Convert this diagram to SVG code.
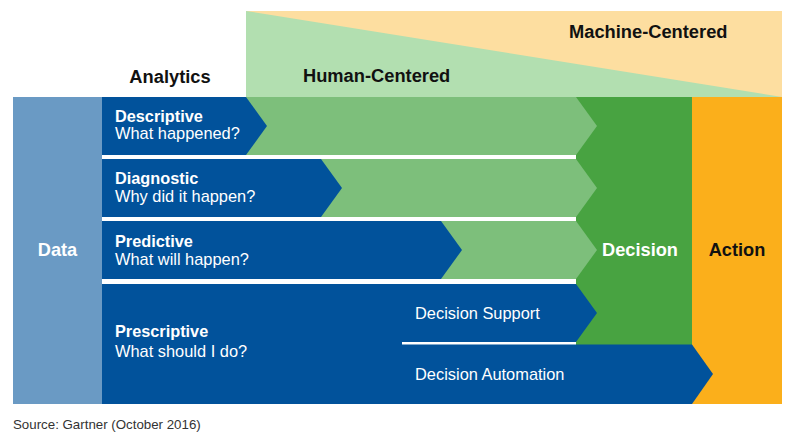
<svg xmlns="http://www.w3.org/2000/svg" width="791" height="442" viewBox="0 0 791 442">
  <style>
    text { font-family: "Liberation Sans", Arial, sans-serif; }
    .hdr { font-size: 18.3px; font-weight: bold; fill: #111; }
    .big { font-size: 18.2px; font-weight: bold; }
    .ttl { font-size: 16.3px; font-weight: bold; fill: #fff; }
    .sub { font-size: 16.4px; fill: #fff; }
    .blue { fill: #01529b; }
    .mid { fill: #7dbf7b; }
    .src { font-size: 13.3px; fill: #333; }
  </style>

  <!-- spectrum band: human- vs machine-centered -->
  <g id="spectrum">
    <rect x="246" y="11" width="536" height="86" fill="#fddea0"/>
    <polygon points="246,11 782,97 246,97" fill="#b2dfb0"/>
    <text class="hdr" x="569" y="38">Machine-Centered</text>
    <text class="hdr" x="303" y="82">Human-Centered</text>
  </g>

  <g id="analytics-label">
    <text class="hdr" x="170" y="83" text-anchor="middle">Analytics</text>
  </g>

  <!-- data column -->
  <g id="data">
    <rect x="13" y="97" width="89" height="307" fill="#6a9ac4"/>
    <text class="big" x="57.5" y="256" text-anchor="middle" fill="#fff">Data</text>
  </g>

  <!-- decision and action columns -->
  <g id="decision">
    <rect x="576" y="97" width="116" height="248" fill="#48a341"/>
    <text class="big" x="640" y="256" text-anchor="middle" fill="#fff">Decision</text>
  </g>
  <g id="action">
    <rect x="692" y="97" width="90" height="307" fill="#fbaf1b"/>
    <text class="big" x="737" y="256" text-anchor="middle" fill="#111">Action</text>
  </g>

  <!-- analytics rows -->
  <g id="descriptive">
    <polygon class="mid" points="246,97 576,97 597,126 576,155 246,155"/>
    <polygon class="blue" points="102,97 246,97 267,126 246,155 102,155"/>
    <text class="ttl" x="115" y="122">Descriptive</text>
    <text class="sub" x="115" y="138.5">What happened?</text>
  </g>

  <g id="diagnostic">
    <polygon class="mid" points="321,159 576,159 597,188 576,217 321,217"/>
    <polygon class="blue" points="102,159 321,159 342,188 321,217 102,217"/>
    <text class="ttl" x="115" y="183.5">Diagnostic</text>
    <text class="sub" x="115" y="202">Why did it happen?</text>
  </g>

  <g id="predictive">
    <polygon class="mid" points="441,221 576,221 597,250 576,279 441,279"/>
    <polygon class="blue" points="102,221 441,221 462,250 441,279 102,279"/>
    <text class="ttl" x="115" y="246.5">Predictive</text>
    <text class="sub" x="115" y="264.5">What will happen?</text>
  </g>

  <g id="prescriptive">
    <rect class="blue" x="102" y="284" width="300" height="120"/>
    <text class="ttl" x="115" y="337">Prescriptive</text>
    <text class="sub" x="115" y="357">What should I do?</text>
  </g>

  <g id="decision-support">
    <polygon class="blue" points="400,284 576,284 597,313 576,342 400,342"/>
    <text class="sub" x="415" y="318.5">Decision Support</text>
  </g>

  <g id="decision-automation">
    <polygon class="blue" points="400,344.5 692,344.5 713,374 692,404 400,404"/>
    <text class="sub" x="415" y="380">Decision Automation</text>
  </g>

  <g id="connectors"></g>

  <text class="src" x="13" y="428.5">Source: Gartner (October 2016)</text>
</svg>
